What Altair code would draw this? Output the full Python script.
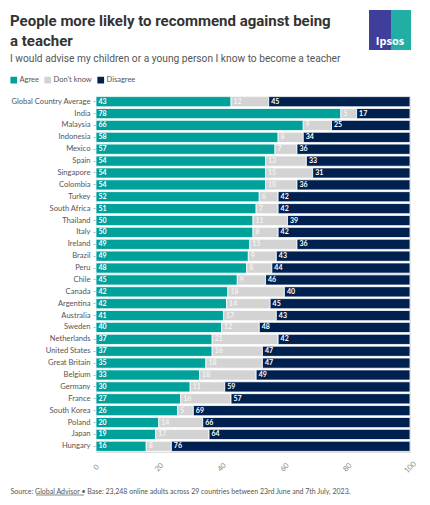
import altair as alt
import pandas as pd

countries = ["Global Country Average", "India", "Malaysia", "Indonesia", "Mexico", "Spain",
             "Singapore", "Colombia", "Turkey", "South Africa", "Thailand", "Italy", "Ireland",
             "Brazil", "Peru", "Chile", "Canada", "Argentina", "Australia", "Sweden",
             "Netherlands", "United States", "Great Britain", "Belgium", "Germany", "France",
             "South Korea", "Poland", "Japan", "Hungary"]
agree = [43, 78, 66, 58, 57, 54, 54, 54, 52, 51, 50, 50, 49, 49, 48, 45, 42, 42, 41, 40,
         37, 37, 35, 33, 30, 27, 26, 20, 19, 16]
dont_know = [12, 5, 9, 8, 7, 13, 15, 10, 6, 7, 11, 8, 15, 9, 8, 9, 18, 14, 17, 12,
             21, 16, 18, 18, 11, 16, 5, 14, 17, 8]
disagree = [45, 17, 25, 34, 36, 33, 31, 36, 42, 42, 39, 42, 36, 43, 44, 46, 40, 45, 43, 48,
            42, 47, 47, 49, 59, 57, 69, 66, 64, 76]
responses = ["Agree", "Don't know", "Disagree"]
colors = ["#00a09b", "#d3d3d3", "#002150"]
ticks = [0, 10, 20, 30, 40, 50, 60, 70, 80, 90, 100]

rows = []
for c, a, d, g in zip(countries, agree, dont_know, disagree):
    for i, (r, v) in enumerate(zip(responses, [a, d, g])):
        rows.append({"country": c, "response": r, "value": v, "order": i})
df = pd.DataFrame(rows)

W, H = 314, 356

base = alt.Chart(df).transform_stack(
    stack="value", groupby=["country"], as_=["x0", "x1"], offset="normalize",
    sort=[alt.SortField("order", order="ascending")]
)

y_enc = alt.Y("country:N", sort=countries, title=None,
              scale=alt.Scale(paddingInner=0.14, paddingOuter=0.05),
              axis=alt.Axis(labelFont="Lato", labelFontSize=7.6, labelColor="#555555",
                            ticks=True, tickSize=3, tickColor="#bbbbbb", domain=False,
                            labelPadding=3, labelLimit=100))

bars = base.mark_bar(stroke="white", strokeWidth=0.8).encode(
    x=alt.X("x0:Q", scale=alt.Scale(domain=[0, 1], nice=False),
            axis=alt.Axis(values=[t / 100 for t in ticks],
                          labelExpr="format(datum.value*100, 'd')",
                          labelAngle=315, labelAlign="center", labelBaseline="middle",
                          labelPadding=15, labelFont="Lato", labelFontSize=7.5,
                          labelOverlap=False,
                          labelColor="#888888", grid=False, ticks=False, domain=False,
                          title="Source: Global Advisor \u2022 Base: 23,248 online adults across 29 countries between 23rd June and 7th July, 2023.",
                          titleFont="Lato", titleFontSize=7, titleFontWeight="normal",
                          titleColor="#555555", titleAlign="left", titleX=-86,
                          titleY=39, titleBaseline="middle")),
    x2="x1:Q",
    y=y_enc,
    color=alt.Color("response:N", sort=responses,
                    scale=alt.Scale(domain=responses, range=colors),
                    legend=alt.Legend(title=None, orient="none", legendX=-86, legendY=-20,
                                      direction="horizontal", symbolType="square",
                                      symbolSize=45, symbolStrokeWidth=0,
                                      labelFont="Lato", labelFontSize=7.5,
                                      labelColor="#555555", columnPadding=5,
                                      labelOffset=2)),
)

labels = base.transform_calculate(
    lab_color="datum.response == \"Don't know\" ? '#f2f2f2' : 'white'"
).mark_text(align="left", baseline="middle", dx=2.5, font="Lato", fontSize=7,
            fontWeight="bold").encode(
    x="x0:Q",
    y=alt.Y("country:N", sort=countries),
    text="value:Q",
    color=alt.Color("lab_color:N", scale=None),
)

one = pd.DataFrame({"k": [0]})
underline = alt.Chart(one).mark_rule(color="#555555", strokeWidth=0.7).encode(
    x=alt.value(-60), x2=alt.value(-12), y=alt.value(H + 43))

logo_bg = alt.Chart(one).mark_rect(color="#3f3f9b").encode(
    x=alt.value(273), x2=alt.value(315), y=alt.value(-86), y2=alt.value(-46))
logo_teal = alt.Chart(one).mark_rect(color="#22aea4").encode(
    x=alt.value(295), x2=alt.value(315), y=alt.value(-86), y2=alt.value(-46))
logo_text = alt.Chart(pd.DataFrame({"t": ["Ipsos"]})).mark_text(
    color="white", fontWeight="bold", font="Open Sans", fontSize=11, align="center",
    baseline="middle").encode(text="t:N", x=alt.value(294), y=alt.value(-54))

chart = alt.layer(bars, labels, underline, logo_bg, logo_teal, logo_text).properties(
    width=W, height=H,
    autosize=alt.AutoSizeParams(type="none"),
    padding={"left": 88, "top": 88, "right": 12, "bottom": 45},
    title=alt.TitleParams(
        text=["People more likely to recommend against being", "a teacher"],
        subtitle="I would advise my children or a young person I know to become a teacher",
        anchor="start", frame="group", dx=-86, dy=54, orient="top",
        font="Roboto", fontSize=15, fontWeight="bold", color="#333333", lineHeight=20,
        subtitleFont="Roboto", subtitleFontSize=10.2, subtitleColor="#555555",
        subtitlePadding=5, offset=0),
).configure_view(stroke=None).configure(background="white")

chart.save("out.html", embed_options={"renderer": "svg", "actions": False})
